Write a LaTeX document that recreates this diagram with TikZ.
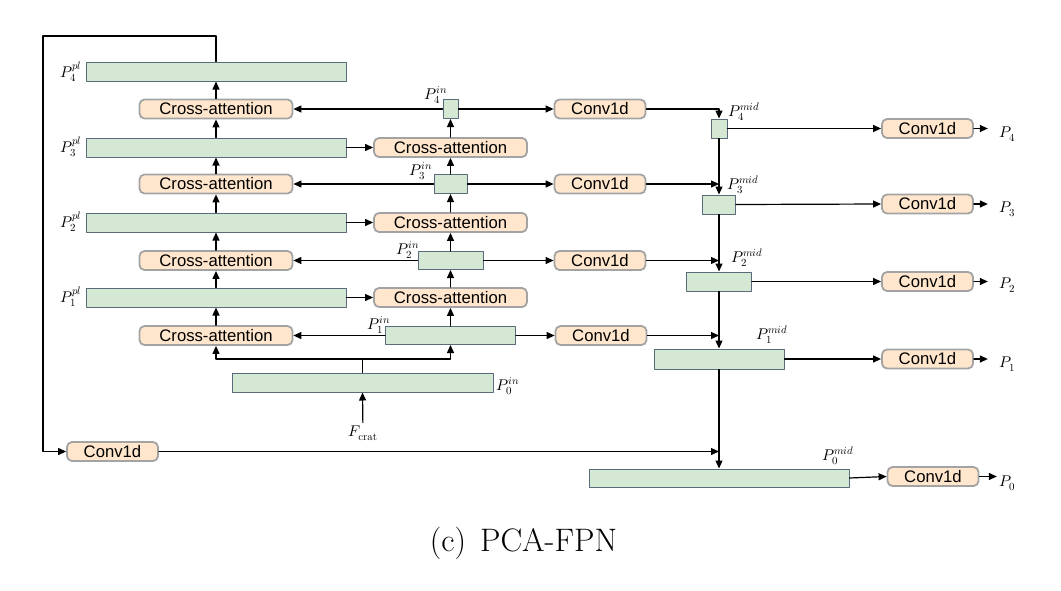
\documentclass[tikz,border=0pt]{standalone}
\usepackage{amsmath}
\usepackage{fontspec}
\usepackage{unicode-math}
\setsansfont{Liberation Sans}
\usepackage{xcolor}
\usepackage{tikz}
\usetikzlibrary{shapes.geometric, arrows.meta}
\definecolor{featfill}{HTML}{D5E8D4}
\definecolor{featdraw}{HTML}{5B6B7B}
\definecolor{opfill}{HTML}{FFE6CC}
\definecolor{opdraw}{HTML}{A3A3A3}
\tikzstyle{arrow} = [line width=1.2pt,->,>={Triangle[length=8pt,width=7pt]}]
\tikzstyle{link} = [line width=1.2pt]
\tikzstyle{feat} = [draw=featdraw,fill=featfill,line width=1pt,inner sep=0pt,minimum height=19pt]
\tikzstyle{op} = [draw=opdraw,fill=opfill,line width=1.8pt,rounded corners=5pt,inner sep=0pt,minimum height=19pt,font=\sffamily\fontsize{16.7}{18}\selectfont]
\tikzstyle{attn} = [op,minimum width=153pt]
\tikzstyle{conv} = [op,minimum width=91pt]
\tikzstyle{lbl} = [inner sep=1pt,font=\fontsize{15.5}{18}\selectfont]

\begin{document}
\begin{tikzpicture}[line cap=round,line join=round,x=1pt,y=-1pt]
                \useasboundingbox (0,0) rectangle (1061,590);
                % pyramid levels, left column
                \node[feat,minimum width=260pt] (p4pl) at (216,71.5) {};
                \node[attn] (ca4l) at (216,109) {Cross-attention};
                \node[feat,minimum width=260pt] (p3pl) at (216,147.5) {};
                \node[attn] (ca3l) at (216,184) {Cross-attention};
                \node[feat,minimum width=260pt] (p2pl) at (216,222.5) {};
                \node[attn] (ca2l) at (216,260.5) {Cross-attention};
                \node[feat,minimum width=260pt] (p1pl) at (216,297.5) {};
                \node[attn] (ca1l) at (216,335.5) {Cross-attention};
                % input levels, middle column
                \node[feat,minimum width=15pt] (p4in) at (450.5,109) {};
                \node[attn] (ca3r) at (450.5,147.5) {Cross-attention};
                \node[feat,minimum width=33pt] (p3in) at (450.5,184) {};
                \node[attn] (ca2r) at (450.5,222.5) {Cross-attention};
                \node[feat,minimum width=65pt,minimum height=18pt] (p2in) at (450.5,260.5) {};
                \node[attn] (ca1r) at (450.5,297.5) {Cross-attention};
                \node[feat,minimum width=130pt,minimum height=18pt] (p1in) at (450.5,335.5) {};
                \node[feat,minimum width=261pt] (p0in) at (362.5,382.5) {};
                \node[conv] (cv4) at (600,109) {Conv1d};
                \node[conv] (cv3) at (600,184) {Conv1d};
                \node[conv] (cv2) at (600,260.5) {Conv1d};
                \node[conv] (cv1) at (601,335.5) {Conv1d};
                \node[conv] (cvb) at (112.5,451.5) {Conv1d};
                % mid levels and outputs
                \node[feat,minimum width=16pt] (p4mid) at (719,128.5) {};
                \node[feat,minimum width=33pt] (p3mid) at (719,204.5) {};
                \node[feat,minimum width=65pt] (p2mid) at (719,281.5) {};
                \node[feat,minimum width=130pt,minimum height=20pt] (p1mid) at (719,359) {};
                \node[feat,minimum width=260pt,minimum height=18pt] (p0mid) at (719,478) {};
                \node[conv] (co4) at (927.5,128.5) {Conv1d};
                \node[conv] (co3) at (927.5,204) {Conv1d};
                \node[conv] (co2) at (927.5,281.5) {Conv1d};
                \node[conv] (co1) at (927.5,359) {Conv1d};
                \node[conv] (co0) at (933,476.5) {Conv1d};
                % labels
                \node[lbl] (l4pl) at (71,72) {$P_4^{pl}$};
                \node[lbl] (l3pl) at (71,147) {$P_3^{pl}$};
                \node[lbl] (l2pl) at (71,222) {$P_2^{pl}$};
                \node[lbl] (l1pl) at (71,297) {$P_1^{pl}$};
                \node[lbl] (l4in) at (436,95) {$P_4^{in}$};
                \node[lbl] (l3in) at (421,171) {$P_3^{in}$};
                \node[lbl] (l2in) at (408,250) {$P_2^{in}$};
                \node[lbl] (l1in) at (379,325) {$P_1^{in}$};
                \node[lbl] (l0in) at (508,386) {$P_0^{in}$};
                \node[lbl] (l4mid) at (744,112) {$P_4^{mid}$};
                \node[lbl] (l3mid) at (743,185) {$P_3^{mid}$};
                \node[lbl] (l2mid) at (747,258) {$P_2^{mid}$};
                \node[lbl] (l1mid) at (772,335) {$P_1^{mid}$};
                \node[lbl] (l0mid) at (838,456) {$P_0^{mid}$};
                \node[lbl] (fcrat) at (363,433) {$F_{\mathrm{crat}}$};
                \node[lbl] (out4) at (1007,134) {$P_4$};
                \node[lbl] (out3) at (1007,209) {$P_3$};
                \node[lbl] (out2) at (1007,285) {$P_2$};
                \node[lbl] (out1) at (1007,364) {$P_1$};
                \node[lbl] (out0) at (1007,483) {$P_0$};
                \node[font=\fontsize{32.5}{38}\selectfont] (caption) at (523.5,543) {(c)\hspace{14pt}PCA-FPN};
                % connectors
                \coordinate (fork) at (362.5,359);
                \coordinate (fbtop) at (43,36);
                \draw[link] (p0in.north) -- (fork);
                \draw[arrow] (fork) -| (ca1l.south);
                \draw[arrow] (fork) -| (p1in.south);
                \draw[arrow,shorten <=2pt] (fcrat) -- (p0in.south);
                \foreach \a/\b in {ca1l/p1pl,p1pl/ca2l,ca2l/p2pl,p2pl/ca3l,ca3l/p3pl,p3pl/ca4l,ca4l/p4pl,p1in/ca1r,ca1r/p2in,p2in/ca2r,ca2r/p3in,p3in/ca3r,ca3r/p4in}
                    \draw[arrow] (\a.north) -- (\b.south);
                \foreach \a/\b in {p4mid/p3mid,p3mid/p2mid,p2mid/p1mid,p1mid/p0mid}
                    \draw[arrow] (\a.south) -- (\b.north);
                \foreach \a/\b in {p1pl/ca1r,p2pl/ca2r,p3pl/ca3r,p1in/cv1,p2in/cv2,p3in/cv3,p4in/cv4,p4mid/co4,p3mid/co3,p2mid/co2,p1mid/co1,p0mid/co0}
                    \draw[arrow] (\a.east) -- (\b.west);
                \foreach \a/\b in {p1in/ca1l,p2in/ca2l,p3in/ca3l,p4in/ca4l}
                    \draw[arrow] (\a.west) -- (\b.east);
                \draw[arrow] (cv4.east) -| (p4mid.north);
                \foreach \a/\b in {cv3/p4mid,cv2/p3mid,cv1/p2mid,cvb/p1mid}
                    \draw[arrow] (\a.east) -- (\a.east -| \b.south);
                \foreach \i in {1,...,4}
                    \draw[arrow,shorten >=10pt] (co\i.east) -- (co\i.east -| out\i.west);
                \draw[arrow,shorten >=1pt] (co0.east) -- (co0.east -| out0.west);
                \draw[arrow] (p4pl.north) |- (fbtop) |- (cvb.west);
            \end{tikzpicture}
\end{document}
